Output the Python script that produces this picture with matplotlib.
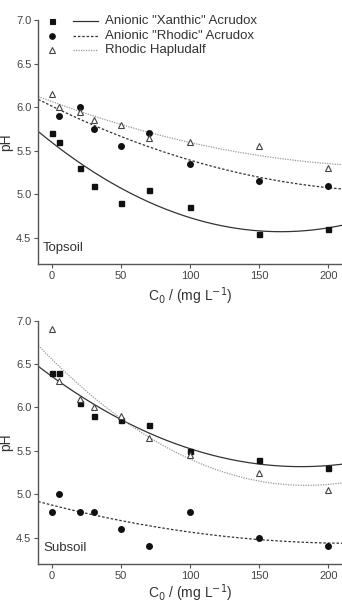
import numpy as np
import matplotlib.pyplot as plt

plt.rcParams['font.family'] = ['Liberation Sans', 'DejaVu Sans']

# concentrations C0 (mg/L)
x_all = [0, 5, 20, 30, 50, 70, 100, 150, 200]
x_rho = [5, 20, 30, 50, 70, 100, 150, 200]

# topsoil pH
top_xan = [5.7, 5.6, 5.3, 5.1, 4.9, 5.05, 4.85, 4.55, 4.6]
top_rho = [5.9, 6.0, 5.75, 5.55, 5.7, 5.35, 5.15, 5.1]
top_hap = [6.15, 6.0, 5.95, 5.85, 5.8, 5.65, 5.6, 5.55, 5.3]

# subsoil pH
sub_xan = [6.4, 6.4, 6.05, 5.9, 5.85, 5.8, 5.5, 5.4, 5.3]
sub_rho = [4.8, 5.0, 4.8, 4.8, 4.6, 4.4, 4.8, 4.5, 4.4]
sub_hap = [6.9, 6.3, 6.1, 6.0, 5.9, 5.65, 5.45, 5.25, 5.05]

labels = ['Anionic "Xanthic" Acrudox', 'Anionic "Rhodic" Acrudox', 'Rhodic Hapludalf']

fig = plt.figure(figsize=(3.42, 6.05), dpi=100)
ax1 = fig.add_axes([0.112, 0.5636, 0.888, 0.4033])
ax2 = fig.add_axes([0.112, 0.0683, 0.888, 0.4017])

xx = np.linspace(-10, 210, 200)
axcol = '#555555'


def panel(ax, xan, rho, hap, xrho, name, lpad):
    # quadratic fits of each series
    for xs, ys, ls, lc in [(x_all, xan, '-', '#333333'),
                           (xrho, rho, (0, (2, 1.5)), '#333333'),
                           (x_all, hap, (0, (1, 1)), '#999999')]:
        c = np.polyfit(xs, ys, 2)
        ax.plot(xx, np.polyval(c, xx), ls=ls, color=lc, lw=0.9)
    ax.plot(x_all, xan, 's', color='#111111', ms=3.6, ls='none')
    ax.plot(xrho, rho, 'o', color='#111111', ms=4, ls='none')
    ax.plot(x_all, hap, '^', mfc='white', mec='#444444', ms=5, mew=0.8, ls='none')
    ax.set_xlim(-10, 210)
    ax.set_ylim(4.2, 7.0)
    ax.set_xticks([0, 50, 100, 150, 200])
    ax.set_yticks([4.5, 5.0, 5.5, 6.0, 6.5, 7.0])
    ax.set_yticklabels(['4.5', '5.0', '5.5', '6.0', '6.5', '7.0'])
    for s in ['top', 'right']:
        ax.spines[s].set_visible(False)
    for s in ['left', 'bottom']:
        ax.spines[s].set_color(axcol)
        ax.spines[s].set_linewidth(1.0)
    ax.tick_params(direction='out', length=3, width=0.8, color=axcol,
                   labelsize=8, labelcolor='#444444', pad=2)
    ax.set_ylabel('pH', fontsize=10, color='#333333', labelpad=2)
    ax.set_xlabel('C$_0$ / (mg L$^{-1}$)', fontsize=10, color='#333333', labelpad=lpad)
    ax.text(0.016, 0.066, name, transform=ax.transAxes, fontsize=9.5,
            color='#333333', va='center')


panel(ax1, top_xan, top_rho, top_hap, x_rho, 'Topsoil', 3.5)
panel(ax2, sub_xan, sub_rho, sub_hap, x_all, 'Subsoil', 1.5)

# legend drawn by hand in axes fraction
rows = [0.996, 0.936, 0.877]
styles = [('s', '#111111', '#111111', '-', '#333333', 3.6),
          ('o', '#111111', '#111111', (0, (2, 1.5)), '#333333', 4),
          ('^', 'white', '#444444', (0, (1, 1)), '#999999', 5)]
for yy, lab, (m, mfc, mec, ls, lc, ms) in zip(rows, labels, styles):
    ax1.plot([0.044], [yy], m, mfc=mfc, mec=mec, ms=ms, mew=0.8,
             transform=ax1.transAxes, clip_on=False)
    ax1.plot([0.114, 0.197], [yy, yy], ls=ls, color=lc, lw=0.9,
             transform=ax1.transAxes, clip_on=False)
    ax1.text(0.22, yy, lab, transform=ax1.transAxes, fontsize=9.5,
             color='#333333', va='center')

fig.savefig('out.png', dpi=100)
